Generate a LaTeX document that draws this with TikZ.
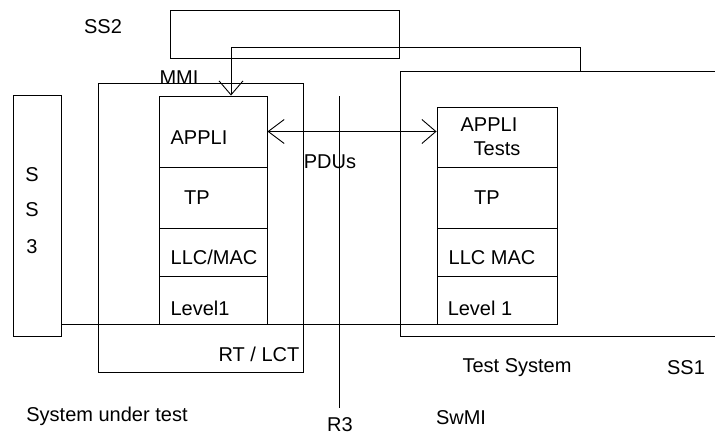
\documentclass[tikz,border=0pt]{standalone}
\usepackage{fontspec}
\setmainfont{Liberation Sans}
\usetikzlibrary{arrows.meta}
\begin{document}
\begin{tikzpicture}[x=1pt,y=-1pt,
  every node/.style={font=\fontsize{20}{24}\selectfont, inner sep=0pt},
  box/.style={draw, line width=0.9pt, rectangle, inner sep=0pt},
  ln/.style={line width=0.9pt},
  barb/.style={line width=0.9pt, -{Straight Barb[length=14pt,width=24pt,line width=0.9pt]}},
  barbs/.style={line width=0.9pt, {Straight Barb[length=16pt,width=24pt,line width=0.9pt]}-{Straight Barb[length=14pt,width=24pt,line width=0.9pt]}},
  lbl/.style={anchor=center}]
\useasboundingbox (0,0) rectangle (715,437);
% outer boxes
\node[box, minimum width=229pt, minimum height=48pt] (ss2) at (284.5,34) {};
\draw[ln] (715,71) -- (400,71) -- (400,336) -- (715,336);
\node[box, minimum width=205pt, minimum height=289pt] (sut) at (200.5,227.5) {};
\node[box, minimum width=48pt, minimum height=241pt] (ss3) at (37,215.5) {};
% left stack
\node[box, minimum width=108pt, minimum height=71pt] (lappli) at (213,131.5) {};
\node[box, minimum width=108pt, minimum height=61pt] (ltp) at (213,197.5) {};
\node[box, minimum width=108pt, minimum height=48pt] (lllc) at (213,252) {};
\node[box, minimum width=108pt, minimum height=48pt] (llev) at (213,300) {};
% right stack
\node[box, minimum width=120pt, minimum height=60pt] (rappli) at (497,137) {};
\node[box, minimum width=120pt, minimum height=61pt] (rtp) at (497,197.5) {};
\node[box, minimum width=120pt, minimum height=48pt] (rllc) at (497,252) {};
\node[box, minimum width=120pt, minimum height=48pt] (rlev) at (497,300) {};
% coordinates
\coordinate (ss1hook) at (580,71);
\coordinate (bend) at (231,47);
\coordinate (r3top) at (339,96);
\coordinate (r3bot) at (339,408);
\coordinate (l1end) at (448,324);
% connectors
\draw[barb] (ss1hook) |- (bend) -- (lappli.north -| bend);
\draw[barbs] (lappli.east) -- (rappli.west |- lappli.east);
\draw[ln] (r3top) -- (r3bot);
\draw[ln] (ss3.east |- l1end) -- (l1end);
% labels
\node[lbl] (tss2) at (103,27) {SS2};
\node[lbl] (tmmi) at (179,78) {MMI};
\node[lbl] (tpdus) at (330,162) {PDUs};
\node[lbl] (ts1) at (32,175) {S};
\node[lbl] (ts2) at (32,210) {S};
\node[lbl] (ts3) at (32,247) {3};
\node[lbl] (tlappli) at (199,138) {APPLI};
\node[lbl] (tltp) at (197,198) {TP};
\node[lbl] (tlllc) at (214,257) {LLC/MAC};
\node[lbl] (tllev) at (200,308) {Level1};
\node[lbl] (trt) at (259,354) {RT / LCT};
\node[lbl] (tsut) at (107,416) {System under test};
\node[lbl] (tr3) at (340,425) {R3};
\node[lbl] (trappli) at (489,125) {APPLI};
\node[lbl] (trtests) at (497,149) {Tests};
\node[lbl] (trtp) at (487,198) {TP};
\node[lbl] (trllc) at (492,258) {LLC MAC};
\node[lbl] (trlev) at (480,308) {Level 1};
\node[lbl] (tts) at (517,368) {Test System};
\node[lbl] (tss1) at (686,368) {SS1};
\node[lbl] (tswmi) at (461,418) {SwMI};
\end{tikzpicture}
\end{document}
